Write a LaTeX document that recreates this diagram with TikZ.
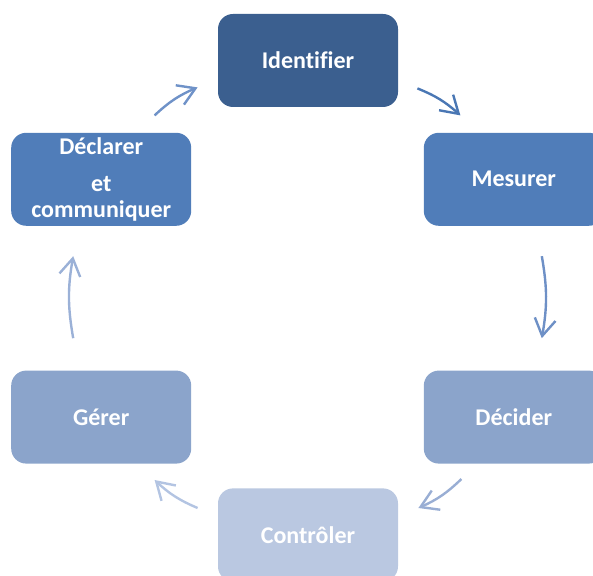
\documentclass[tikz,border=0pt]{standalone}
\usepackage{fontspec}
\setmainfont{Carlito}[Ligatures=NoCommon]
\usetikzlibrary{arrows.meta,positioning}
\definecolor{stepdark}{HTML}{3B5F8F}
\definecolor{stepmid}{HTML}{507DB9}
\definecolor{steplight}{HTML}{8BA4CB}
\definecolor{steppale}{HTML}{BAC8E1}
\definecolor{arrA}{HTML}{6F92C8}
\definecolor{arrB}{HTML}{4A77B4}
\definecolor{arrC}{HTML}{6E90C6}
\definecolor{arrD}{HTML}{99AED4}
\definecolor{arrE}{HTML}{B3C4E2}
\definecolor{arrF}{HTML}{9BB1D7}

\begin{document}
\begin{tikzpicture}[x=0.5pt,y=0.5pt,
    phase/.style={rounded corners=7.5pt,minimum width=90pt,minimum height=46.5pt,
      align=center,text=white,font=\fontsize{12}{13}\selectfont\bfseries,inner sep=2pt},
    a/.style={-{Straight Barb[length=8.5pt,width=10.5pt]},line width=1.2pt}]
    \clip (0,0) rectangle (593,576);
    \node[phase,fill=stepdark] (ident) at (308,515.5) {Identifier};
    \node[phase,fill=stepmid,below right=12.5pt and 12.5pt of ident] (mes) {Mesurer};
    \node[phase,fill=steplight,below=72pt of mes] (dec) {Décider};
    \node[phase,fill=steppale,below left=12pt and 12.5pt of dec] (ctrl) {Contrôler};
    \node[phase,fill=steplight,above left=12pt and 13pt of ctrl] (ger) {Gérer};
    \node[phase,fill=stepmid,above=72pt of ger] (decl) {Déclarer\\[5.5pt]et\\communiquer};
    % arrow ends
    \coordinate (a1) at ([shift={(-18.5pt,8.5pt)}]decl.north east);
    \coordinate (b1) at ([shift={(-10pt,10pt)}]ident.south west);
    \coordinate (a2) at ([shift={(9.5pt,9.5pt)}]ident.south east);
    \coordinate (b2) at ([shift={(18.5pt,8.5pt)}]mes.north west);
    \coordinate (a3) at ([shift={(14pt,-15pt)}]mes.south);
    \coordinate (b3) at ([shift={(14pt,16pt)}]dec.north);
    \coordinate (a4) at ([shift={(19pt,-7.5pt)}]dec.south west);
    \coordinate (b4) at ([shift={(10pt,-10pt)}]ctrl.north east);
    \coordinate (a5) at ([shift={(-10pt,-10pt)}]ctrl.north west);
    \coordinate (b5) at ([shift={(-18.5pt,-8pt)}]ger.south east);
    \coordinate (a6) at ([shift={(-14pt,16pt)}]ger.north);
    \coordinate (b6) at ([shift={(-14pt,-15pt)}]decl.south);
    \draw[a,arrA] (a1) to[bend left=10] (b1);
    \draw[a,arrB] (a2) to[bend left=10] (b2);
    \draw[a,arrC] (a3) to[bend left=10] (b3);
    \draw[a,arrD] (a4) to[bend left=10] (b4);
    \draw[a,arrE] (a5) to[bend left=10] (b5);
    \draw[a,arrF] (a6) to[bend left=10] (b6);
\end{tikzpicture}
\end{document}
